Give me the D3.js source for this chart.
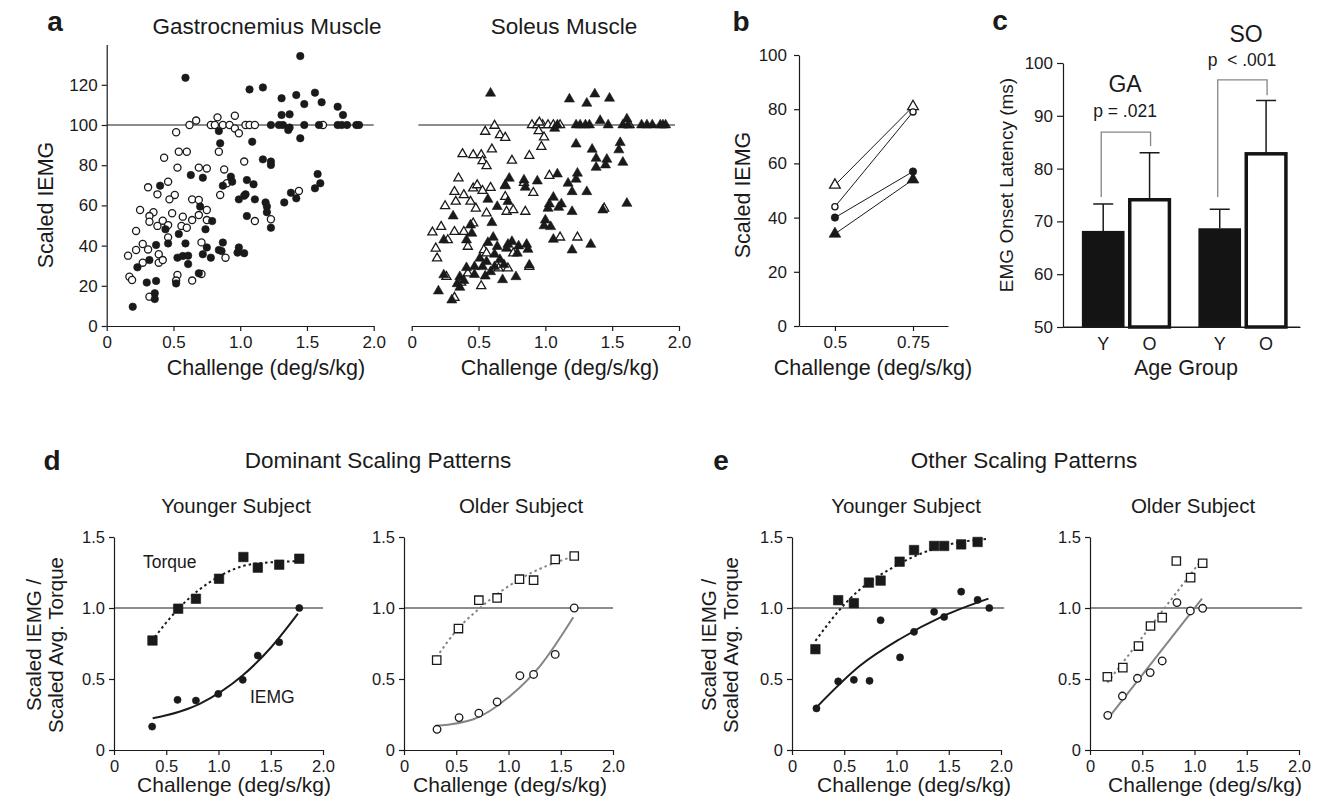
<!DOCTYPE html>
<html>
<head>
<meta charset="utf-8">
<script src="https://cdn.jsdelivr.net/npm/d3@7"></script>
<style>
  body { margin: 0; background: #fff; }
  svg text { font-family: "Liberation Sans", Arial, Helvetica, sans-serif; fill: #1a1a1a; white-space: pre; }
</style>
</head>
<body>
<svg id="fig" width="1322" height="809"></svg>
<script>
// ---- data: panel a, [challenge (deg/s/kg), scaled IEMG] ----
var gaYoung = [[0.59,123.5],[1.45,134.3],[1.07,117.7],[1.17,118.7],[1.31,113.3],[1.42,114.9],[1.56,116.1],[1.48,110.4],[1.61,111.3],[1.73,109.1],[1.77,105.0],[1.31,105.0],[1.37,105.3],[1.23,100],[1.29,100],[1.32,100],[1.36,97.5],[1.37,98.7],[1.48,100],[1.45,93.4],[1.73,100],[1.76,100],[1.80,100],[1.87,100],[1.89,100],[1.59,100],[0.84,97.0],[0.85,90.9],[1.09,91.7],[0.63,75.1],[0.72,73.8],[0.40,69.8],[0.93,74.3],[0.94,71.8],[0.87,69.8],[1.05,72.6],[1.10,70.5],[1.17,82.9],[1.23,81.8],[1.23,80.1],[0.99,63.0],[1.03,64.8],[1.04,65.5],[1.11,63.0],[1.19,61.5],[1.20,59.4],[1.20,56.6],[1.05,54.7],[1.23,48.9],[1.33,61.5],[1.38,66.3],[1.42,63.5],[1.56,68.5],[1.58,75.6],[1.60,71.0],[0.70,59.4],[0.79,52.2],[0.74,48.1],[0.44,48.1],[0.46,41.1],[0.37,40.3],[0.54,45.8],[0.59,41.1],[0.87,41.5],[0.84,37.8],[0.86,37.3],[0.99,39.1],[0.98,36.5],[1.03,36.2],[0.75,39.1],[0.72,35.7],[0.78,34.0],[0.53,34.0],[0.57,34.8],[0.61,35.0],[0.61,30.8],[0.32,32.8],[0.23,29.2],[0.30,21.6],[0.37,22.4],[0.52,21.2],[0.36,16.3],[0.36,13.4],[0.195,9.6],[0.69,26.2]];
var gaOld = [[0.67,102.2],[0.62,100],[0.52,96.4],[0.83,103.8],[0.78,100],[0.81,100],[0.87,100],[0.92,100],[0.96,104.6],[0.96,98.3],[0.99,95.9],[1.04,100],[1.07,100],[1.11,100],[1.62,100],[0.43,83.7],[0.54,86.7],[0.60,86.7],[0.84,86.7],[0.53,78.8],[0.69,78.8],[0.75,78.4],[0.88,77.9],[1.03,81.8],[0.46,71.8],[0.31,69.0],[0.38,65.5],[0.51,65.2],[0.47,63.0],[0.64,63.0],[0.69,62.7],[0.90,71.0],[0.85,65.2],[0.25,57.7],[0.35,56.6],[0.32,54.7],[0.32,51.9],[0.42,52.4],[0.49,56.1],[0.46,50.2],[0.38,49.8],[0.57,54.4],[0.56,49.8],[0.60,48.9],[0.64,52.7],[0.69,55.2],[0.75,57.7],[0.75,52.7],[0.22,47.3],[0.46,44.1],[0.27,40.8],[0.22,37.8],[0.31,38.1],[0.39,35.7],[0.16,35.0],[0.27,31.5],[0.39,31.5],[0.42,32.8],[0.71,41.6],[0.89,34.0],[0.17,24.5],[0.19,22.9],[0.53,25.4],[0.52,22.6],[0.64,22.6],[0.71,25.9],[0.32,14.6],[1.44,67.2],[1.11,52.2],[1.23,53.1]];
var soYoung = [[0.59,115.8],[1.18,112.9],[1.37,115.4],[1.48,113.3],[1.31,110.8],[1.23,100],[1.26,100],[1.30,100],[1.33,100],[1.07,98.3],[1.09,100],[1.41,102.2],[1.47,100],[1.61,103.0],[1.58,100],[1.62,100],[1.72,100],[1.76,100],[1.80,100],[1.86,100],[1.88,100],[1.90,100],[1.23,90.5],[1.35,87.9],[1.56,91.2],[1.55,87.6],[1.38,83.4],[1.46,82.9],[1.45,80.1],[1.38,78.9],[1.58,81.4],[1.24,76.0],[1.23,73.0],[1.17,71.0],[1.20,66.8],[1.31,66.8],[1.09,75.6],[0.94,72.1],[0.84,72.6],[0.85,69.0],[0.73,73.5],[0.70,69.7],[1.06,64.0],[1.03,60.7],[1.12,60.7],[1.02,58.5],[1.10,59.0],[1.20,56.9],[1.00,52.7],[0.99,49.8],[1.04,49.4],[1.06,43.1],[1.61,61.0],[1.43,57.7],[1.20,37.8],[1.34,40.6],[0.64,59.4],[0.57,63.0],[0.72,61.9],[0.31,54.7],[0.44,50.2],[0.60,51.4],[0.45,46.1],[0.41,42.8],[0.24,42.8],[0.61,44.1],[0.57,41.5],[0.64,39.5],[0.72,40.6],[0.75,42.0],[0.71,38.6],[0.62,35.7],[0.86,40.6],[0.87,38.1],[0.79,36.2],[0.51,33.7],[0.47,29.5],[0.53,29.5],[0.56,32.0],[0.59,27.0],[0.41,29.0],[0.62,29.5],[0.88,30.3],[0.78,24.5],[0.24,25.4],[0.36,24.5],[0.39,22.6],[0.36,19.2],[0.20,17.4],[0.30,12.9],[0.66,33.0],[0.69,30.5],[0.80,39.8],[0.47,25.6],[0.34,21.0],[0.55,24.8],[0.68,23.0]];
var soOld = [[0.62,99.7],[0.55,96.7],[0.66,95.0],[0.70,93.7],[0.90,100],[0.94,100],[0.98,100],[1.02,100],[0.955,101.3],[0.95,97.0],[0.99,93.9],[0.97,89.2],[1.06,100],[1.11,100],[1.63,100],[0.60,87.9],[0.38,85.6],[0.46,85.1],[0.52,85.1],[0.53,82.1],[0.56,79.6],[0.75,82.3],[0.88,84.7],[0.35,73.5],[0.32,66.8],[0.39,65.2],[0.46,68.5],[0.49,70.1],[0.53,67.3],[0.59,68.8],[0.70,70.1],[0.84,71.3],[0.91,66.3],[1.03,74.8],[0.33,61.9],[0.25,59.7],[0.44,61.9],[0.48,58.5],[0.56,56.1],[0.70,64.3],[0.71,56.9],[0.76,57.7],[0.85,56.9],[1.44,58.5],[0.46,51.1],[0.22,49.4],[0.155,46.6],[0.32,46.9],[0.39,46.9],[0.27,42.8],[0.42,39.5],[0.54,37.8],[1.11,44.1],[1.24,44.1],[0.18,38.6],[0.19,33.7],[0.26,24.5],[0.42,26.2],[0.37,21.6],[0.52,19.9],[0.65,28.7],[0.72,28.7],[0.76,36.2],[0.88,29.5],[0.32,14.1],[0.56,36.2]];

// ---- panel b: group means at two challenge levels ----
var bChallenge = [0.5, 0.75];
var bGaYoung = [40, 57];
var bGaOld = [44, 79];
var bSoYoung = [34, 54];
var bSoOld = [52, 81];

// ---- panel c: EMG onset latency (ms) ----
var cMuscles = ["GA", "SO"];
var cGroups = ["Y", "O"];
var cMean = [[68.2, 74.1], [68.7, 82.8]];
var cUpper = [[73.3, 83.0], [72.3, 92.9]];
var cBracketTop = [86.9, 96.8];
var cBracketLegs = [[74.6, 84.3], [74.6, 93.9]];
var cPText = ["p = .021", "p  < .001"];

// ---- panels d and e: [challenge, scaled value] ----
var dYoungTorque = [[0.368,0.771],[0.614,0.995],[0.784,1.065],[1.005,1.206],[1.238,1.359],[1.376,1.284],[1.581,1.305],[1.773,1.347]];
var dYoungIemg = [[0.365,0.165],[0.608,0.353],[0.784,0.348],[0.998,0.395],[1.232,0.494],[1.376,0.665],[1.581,0.759],[1.773,1.0]];
var dYoungTorqueFit = [[0.39,0.795],[0.61,0.99],[1.0,1.22],[1.33,1.31],[1.77,1.33]];
var dYoungIemgFit = [[0.37,0.223],[0.82,0.325],[1.23,0.524],[1.5,0.72],[1.76,0.96]];
var dOldTorque = [[0.313,0.633],[0.521,0.855],[0.716,1.055],[0.891,1.071],[1.105,1.203],[1.24,1.196],[1.447,1.342],[1.629,1.366]];
var dOldIemg = [[0.316,0.146],[0.527,0.228],[0.716,0.259],[0.891,0.339],[1.109,0.523],[1.24,0.532],[1.447,0.673],[1.629,1.0]];
var dOldTorqueFit = [[0.31,0.652],[0.5,0.84],[0.72,0.996],[1.1,1.2],[1.63,1.366]];
var dOldIemgFit = [[0.31,0.17],[0.665,0.217],[1.016,0.381],[1.303,0.593],[1.62,0.935]];
var eYoungTorque = [[0.224,0.71],[0.442,1.055],[0.592,1.034],[0.736,1.179],[0.848,1.193],[1.03,1.326],[1.168,1.408],[1.36,1.437],[1.456,1.437],[1.619,1.448],[1.776,1.465]];
var eYoungIemg = [[0.234,0.293],[0.442,0.483],[0.592,0.494],[0.742,0.487],[0.848,0.914],[1.034,0.652],[1.168,0.832],[1.36,0.973],[1.456,0.937],[1.619,1.115],[1.776,1.057],[1.888,1.0]];
var eYoungTorqueFit = [[0.224,0.769],[0.52,1.04],[1.03,1.312],[1.45,1.437],[1.88,1.488]];
var eYoungIemgFit = [[0.234,0.3],[0.65,0.593],[1.03,0.78],[1.45,0.944],[1.88,1.066]];
var eOldTorque = [[0.166,0.516],[0.314,0.58],[0.464,0.732],[0.579,0.873],[0.691,0.932],[0.826,1.331],[0.963,1.214],[1.078,1.315]];
var eOldIemg = [[0.17,0.244],[0.31,0.38],[0.454,0.505],[0.576,0.545],[0.691,0.627],[0.832,1.038],[0.96,0.979],[1.078,0.998]];
var eOldTorqueFit = [[0.166,0.474],[1.072,1.343]];
var eOldIemgFit = [[0.166,0.216],[1.072,1.066]];

var challengeTicks = [0, 0.5, 1.0, 1.5, 2.0];
var ratioTicks = [0, 0.5, 1.0, 1.5];

// ---- helpers ----
var svg = d3.select("#fig");
var ink = "#1a1a1a", grey = "#858585";
var fmt1 = d => d === 0 ? "0" : d3.format(".1f")(d);

function axis(gen, tx, ty, fs) {
  var g = svg.append("g").attr("transform", `translate(${tx},${ty})`).call(gen);
  g.attr("font-family", null).attr("font-size", fs || 17);
  g.selectAll("path, line").attr("stroke", ink).attr("stroke-width", 1.2);
  g.selectAll("text").attr("fill", ink);
  return g;
}

function text(x, y, str, fs, anchor, weight) {
  return svg.append("text").attr("x", x).attr("y", y)
    .attr("font-size", fs).attr("text-anchor", anchor || "middle")
    .attr("font-weight", weight || "normal").text(str);
}

function vtext(x, y, str, fs) {
  return svg.append("text").attr("transform", `translate(${x},${y}) rotate(-90)`)
    .attr("font-size", fs).attr("text-anchor", "middle").text(str);
}

function marks(data, x, y, type, size, filled, color) {
  svg.append("g").selectAll("path").data(data).join("path")
    .attr("transform", d => `translate(${x(d[0])},${y(d[1])})`)
    .attr("d", d3.symbol(type, size))
    .attr("fill", filled ? color : "#fff")
    .attr("stroke", color)
    .attr("stroke-width", filled ? 0.6 : 1.3);
}

function refLine(x, y, x0, x1, v) {
  svg.append("line").attr("x1", x(x0)).attr("x2", x(x1))
    .attr("y1", y(v)).attr("y2", y(v))
    .attr("stroke", ink).attr("stroke-width", 1.1);
}

// ---- panel a ----
var aY = d3.scaleLinear().domain([0, 140]).range([326, 44.6]);
var aXga = d3.scaleLinear().domain([0, 2]).range([106.7, 373.7]);
var aXso = d3.scaleLinear().domain([0, 2]).range([411.7, 679]);

text(55, 31, "a", 28, "middle", "bold");
text(267, 34, "Gastrocnemius Muscle", 22.5);
text(564, 34, "Soleus Muscle", 22.5);

axis(d3.axisLeft(aY).tickValues([0,20,40,60,80,100,120]).tickSize(5).tickSizeOuter(0).tickPadding(4), 106.7, 0);
axis(d3.axisBottom(aXga).tickValues(challengeTicks).tickFormat(fmt1).tickSize(5).tickSizeOuter(0).tickPadding(5), 0, 326);
axis(d3.axisBottom(aXso).tickValues(challengeTicks).tickFormat(fmt1).tickSize(5).tickSizeOuter(0).tickPadding(5), 0, 326);

refLine(aXga, aY, 0, 2.0, 100);
refLine(aXso, aY, 0.05, 1.97, 100);

marks(gaOld, aXga, aY, d3.symbolCircle, 40, false, ink);
marks(gaYoung, aXga, aY, d3.symbolCircle, 44, true, ink);
marks(soOld, aXso, aY, d3.symbolTriangle, 36, false, ink);
marks(soYoung, aXso, aY, d3.symbolTriangle, 44, true, ink);

vtext(53, 205, "Scaled IEMG", 21.5);
text(266, 375, "Challenge (deg/s/kg)", 21.5);
text(560, 375, "Challenge (deg/s/kg)", 21.5);

// ---- panel b ----
var bX = d3.scaleLinear().domain([0.385, 0.862]).range([799, 948]);
var bY = d3.scaleLinear().domain([0, 100]).range([326, 55]);

text(741, 31, "b", 28, "middle", "bold");
axis(d3.axisLeft(bY).tickValues([0,20,40,60,80,100]).tickSize(5).tickSizeOuter(0).tickPadding(7), 799, 0);
axis(d3.axisBottom(bX).tickValues(bChallenge).tickFormat(d => String(d)).tickSize(5).tickSizeOuter(0).tickPadding(5), 0, 326);

var bSeries = [
  {v: bSoOld, type: d3.symbolTriangle, size: 50, filled: false},
  {v: bGaOld, type: d3.symbolCircle, size: 30, filled: false},
  {v: bGaYoung, type: d3.symbolCircle, size: 44, filled: true},
  {v: bSoYoung, type: d3.symbolTriangle, size: 60, filled: true}
];
var bLine = d3.line().x(d => bX(d[0])).y(d => bY(d[1]));
bSeries.forEach(function(s) {
  var pts = bChallenge.map((c, i) => [c, s.v[i]]);
  svg.append("path").attr("d", bLine(pts)).attr("fill", "none")
    .attr("stroke", ink).attr("stroke-width", 1);
});
bSeries.forEach(function(s) {
  var pts = bChallenge.map((c, i) => [c, s.v[i]]);
  marks(pts, bX, bY, s.type, s.size, s.filled, ink);
});

vtext(750, 195, "Scaled IEMG", 21.5);
text(873, 375, "Challenge (deg/s/kg)", 21.5);

// ---- panel c ----
var cY = d3.scaleLinear().domain([50, 100]).range([327, 63]);
var cX0 = d3.scaleBand().domain(cMuscles).range([1063, 1300])
  .paddingInner(0.236).paddingOuter(0.135).align(0.6);
var cX1 = d3.scaleBand().domain(cGroups).range([0, cX0.bandwidth()]).paddingInner(0.08);

text(1000, 30, "c", 28, "middle", "bold");
axis(d3.axisLeft(cY).tickValues([50,60,70,80,90,100]).tickSize(6).tickSizeOuter(0).tickPadding(4), 1063, 0);
axis(d3.axisBottom(cX0).tickSize(0).tickSizeOuter(0).tickFormat(""), 0, 327);

cMuscles.forEach(function(m, mi) {
  var g = svg.append("g").attr("transform", `translate(${cX0(m)},0)`);
  var rows = cGroups.map((grp, gi) => ({grp: grp, mean: cMean[mi][gi], up: cUpper[mi][gi]}));
  // whiskers
  g.selectAll("line.w").data(rows).join("line")
    .attr("x1", d => cX1(d.grp) + cX1.bandwidth() / 2)
    .attr("x2", d => cX1(d.grp) + cX1.bandwidth() / 2)
    .attr("y1", d => cY(d.mean)).attr("y2", d => cY(d.up))
    .attr("stroke", ink).attr("stroke-width", 1.5);
  g.selectAll("line.c").data(rows).join("line")
    .attr("x1", d => cX1(d.grp) + cX1.bandwidth() / 2 - 10)
    .attr("x2", d => cX1(d.grp) + cX1.bandwidth() / 2 + 10)
    .attr("y1", d => cY(d.up)).attr("y2", d => cY(d.up))
    .attr("stroke", ink).attr("stroke-width", 1.5);
  // bars
  g.selectAll("rect").data(rows).join("rect")
    .attr("x", d => cX1(d.grp) + (d.grp === "O" ? 1.5 : 0))
    .attr("width", d => cX1.bandwidth() - (d.grp === "O" ? 3 : 0))
    .attr("y", d => cY(d.mean))
    .attr("height", d => cY(50) - cY(d.mean))
    .attr("fill", d => d.grp === "Y" ? "#141414" : "#fff")
    .attr("stroke", "#141414")
    .attr("stroke-width", d => d.grp === "Y" ? 0 : 3.5);
  // group tick labels
  g.selectAll("text.t").data(rows).join("text")
    .attr("x", d => cX1(d.grp) + cX1.bandwidth() / 2).attr("y", 350)
    .attr("font-size", 18).attr("text-anchor", "middle").text(d => d.grp);
  // significance bracket
  var xa = cX1("Y") + cX1.bandwidth() / 2 - 2, xb = cX1("O") + cX1.bandwidth() / 2 + 1;
  g.append("path")
    .attr("d", `M${xa},${cY(cBracketLegs[mi][0])}V${cY(cBracketTop[mi])}H${xb}V${cY(cBracketLegs[mi][1])}`)
    .attr("fill", "none").attr("stroke", grey).attr("stroke-width", 1.3);
});
// x axis baseline over the bars
svg.append("line").attr("x1", 1063).attr("x2", 1300).attr("y1", 327).attr("y2", 327)
  .attr("stroke", ink).attr("stroke-width", 1.2);

text(1125, 92, "GA", 23);
text(1125, 117, cPText[0], 17.5);
text(1246, 42, "SO", 23);
text(1242, 66, cPText[1], 17.5);
vtext(1013, 185, "EMG Onset Latency (ms)", 19);
text(1186, 375, "Age Group", 21.5);

// ---- panels d and e ----
var yR = d3.scaleLinear().domain([0, 1.5]).range([750, 537]);

function subplot(x0, titleX, xlabX, title, torque, iemg, torqueFit, iemgFit, filled, color, refEnd) {
  var x = d3.scaleLinear().domain([0, 2]).range([x0, x0 + 209]);
  axis(d3.axisLeft(yR).tickValues(ratioTicks).tickFormat(fmt1).tickSize(5).tickSizeOuter(0).tickPadding(4), x0, 0, 16.5);
  axis(d3.axisBottom(x).tickValues(challengeTicks).tickFormat(fmt1).tickSize(5).tickSizeOuter(0).tickPadding(5), 0, 750, 16.5);
  refLine(x, yR, 0, refEnd, 1.0);
  var line = d3.line().x(d => x(d[0])).y(d => yR(d[1]))
    .curve(torqueFit.length > 2 ? d3.curveMonotoneX : d3.curveLinear);
  svg.append("path").attr("d", line(torqueFit)).attr("fill", "none")
    .attr("stroke", color).attr("stroke-width", 2).attr("stroke-dasharray", "2.5,3");
  svg.append("path").attr("d", line(iemgFit)).attr("fill", "none")
    .attr("stroke", color).attr("stroke-width", 2);
  marks(torque, x, yR, d3.symbolSquare, filled ? 90 : 70, filled, ink);
  marks(iemg, x, yR, d3.symbolCircle, filled ? 40 : 45, filled, ink);
  text(titleX, 513, title, 20.5);
  text(xlabX, 792, "Challenge (deg/s/kg)", 21);
  return x;
}

text(52, 470, "d", 28, "middle", "bold");
text(378, 468, "Dominant Scaling Patterns", 22.5);
subplot(114, 236, 234, "Younger Subject", dYoungTorque, dYoungIemg, dYoungTorqueFit, dYoungIemgFit, true, ink, 2.0);
subplot(404, 521, 510, "Older Subject", dOldTorque, dOldIemg, dOldTorqueFit, dOldIemgFit, false, grey, 2.0);
text(143, 568, "Torque", 17.5, "start");
text(250, 703, "IEMG", 17.5, "start");
vtext(41, 645, "Scaled IEMG /", 20.5);
vtext(63, 645, "Scaled Avg. Torque", 20.5);

text(721, 470, "e", 28, "middle", "bold");
text(1024, 468, "Other Scaling Patterns", 22.5);
subplot(792, 906, 914, "Younger Subject", eYoungTorque, eYoungIemg, eYoungTorqueFit, eYoungIemgFit, true, ink, 2.03);
subplot(1090, 1193, 1205, "Older Subject", eOldTorque, eOldIemg, eOldTorqueFit, eOldIemgFit, false, grey, 2.03);
vtext(716, 645, "Scaled IEMG /", 20.5);
vtext(738, 645, "Scaled Avg. Torque", 20.5);
</script>
</body>
</html>
